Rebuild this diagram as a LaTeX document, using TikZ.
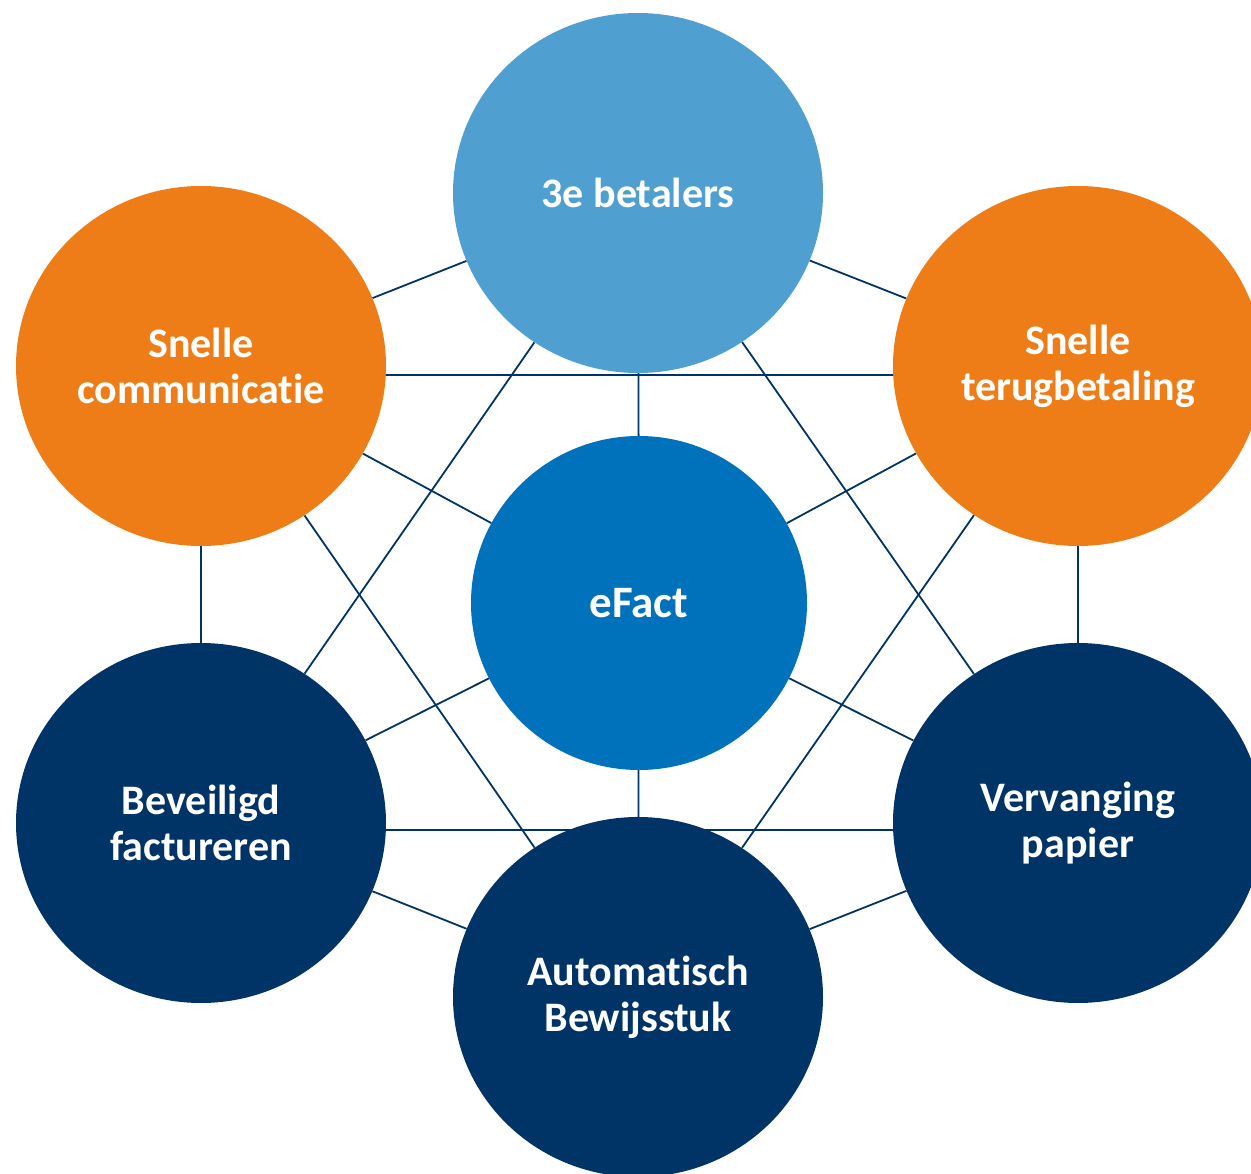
\documentclass[tikz,border=0pt]{standalone}
\usepackage{fontspec}
\setmainfont[Ligatures=NoCommon]{Carlito}
\usetikzlibrary{shapes.geometric,backgrounds}
\definecolor{efOrange}{RGB}{239,125,23}
\definecolor{efSky}{RGB}{79,159,209}
\definecolor{efBlue}{RGB}{0,114,188}
\definecolor{efNavy}{RGB}{0,52,102}

\begin{document}
\begin{tikzpicture}[x=1pt, y=-1pt,
  every node/.style = {shape=ellipse, inner sep=0pt,
    minimum width=370pt, minimum height=360pt,
    align=center, text=white,
    font=\fontsize{42}{46}\selectfont\bfseries},
  link/.style = {draw=efNavy, line width=1.8pt}]
  \useasboundingbox (0,0) rectangle (1251,1174);
  % outer ring
  \node [fill=efSky] (betalers) at (638,193) {3e betalers};
  \node [fill=efOrange] (comm) at (201,366) {Snelle\\communicatie};
  \node [fill=efOrange] (terug) at (1078,366) {Snelle\\terugbetaling};
  \node [fill=efNavy] (bevei) at (201,823) {Beveiligd\\factureren};
  \node [fill=efNavy] (verv) at (1078,823) {Vervanging\\papier};
  \node [fill=efNavy] (bewijs) at (638,997) {Automatisch\\Bewijsstuk};
  % centre
  \node [fill=efBlue, minimum width=336pt, minimum height=334pt,
    font=\fontsize{45}{50}\selectfont\bfseries] (efact) at (639,603) {eFact};
  \begin{scope}[on background layer]
    \foreach \a/\b in {betalers/comm, betalers/terug, betalers/efact,
        betalers/bevei, betalers/verv, comm/efact, comm/bevei, comm/bewijs,
        terug/efact, terug/verv, terug/bewijs, efact/bevei, efact/verv,
        efact/bewijs, bevei/bewijs, verv/bewijs}
      \draw [link] (\a) -- (\b);
    \draw [link] ([yshift=-9pt]comm.center) -- ([yshift=-9pt]terug.center);
    \draw [link] ([yshift=-7pt]bevei.center) -- ([yshift=-7pt]verv.center);
  \end{scope}
\end{tikzpicture}
\end{document}
